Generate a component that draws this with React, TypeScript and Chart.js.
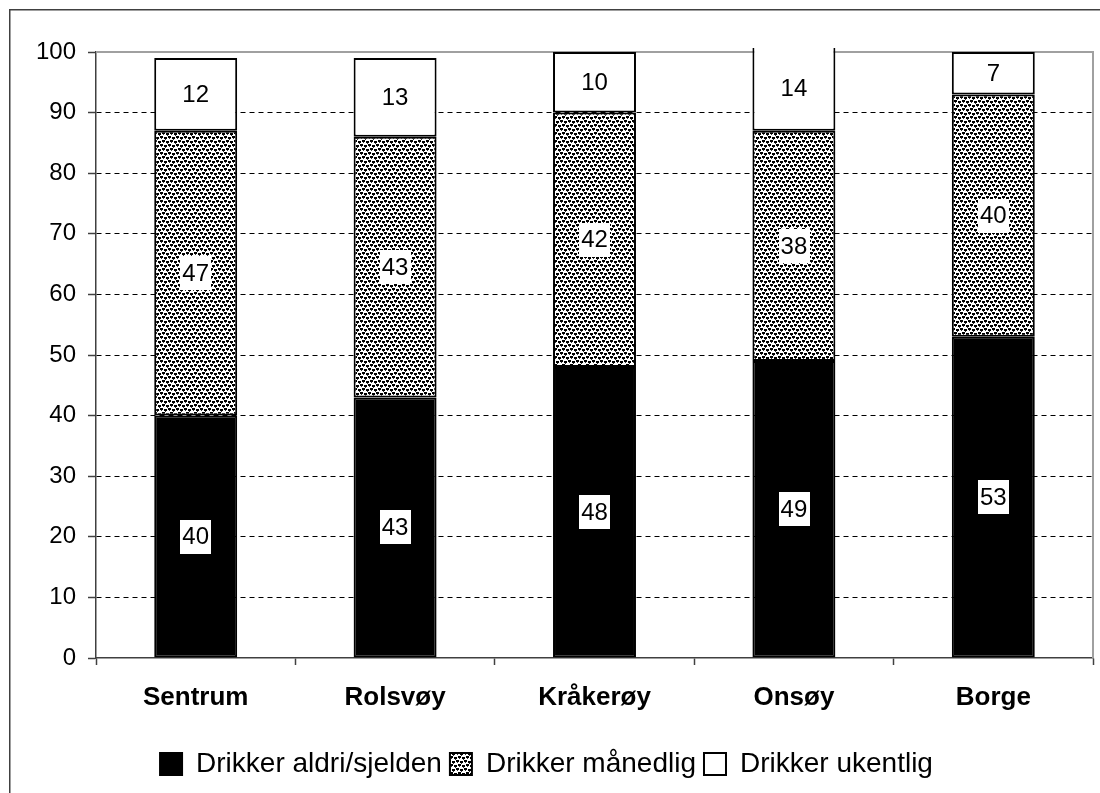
import { useEffect, useRef } from "react";
import { Chart, registerables } from "chart.js";

Chart.register(...registerables);

const categories = ["Sentrum", "Rolsvøy", "Kråkerøy", "Onsøy", "Borge"];
const seriesNames = ["Drikker aldri/sjelden", "Drikker månedlig", "Drikker ukentlig"];
const aldriSjelden = [40, 43, 48, 49, 53];
const maanedlig = [47, 43, 42, 38, 40];
const ukentlig = [12, 13, 10, 14, 7];
const yMin = 0;
const yMax = 100;
const yStep = 10;

const FONT = "'Liberation Sans', Arial, sans-serif";

function makePattern(): CanvasPattern | string {
  const c = document.createElement("canvas");
  c.width = 8;
  c.height = 8;
  const g = c.getContext("2d");
  if (!g) return "#888";
  g.fillStyle = "#fff";
  g.fillRect(0, 0, 8, 8);
  g.fillStyle = "#000";
  g.fillRect(0, 0, 3, 2);
  g.fillRect(4, 1, 3, 2);
  g.fillRect(2, 4, 3, 2);
  g.fillRect(6, 5, 2, 2);
  g.fillRect(0, 5, 1, 2);
  g.fillStyle = "#333";
  g.fillRect(1, 2, 1, 1);
  g.fillRect(5, 3, 1, 1);
  g.fillRect(3, 6, 1, 1);
  g.fillRect(7, 7, 1, 1);
  const p = g.createPattern(c, "repeat");
  return p || "#888";
}

const framePlugin = {
  id: "frame",
  beforeDraw(chart: any) {
    const ctx = chart.ctx;
    ctx.save();
    ctx.fillStyle = "#fff";
    ctx.fillRect(0, 0, chart.width, chart.height);
    ctx.strokeStyle = "#404040";
    ctx.lineWidth = 1.5;
    ctx.strokeRect(9.75, 9.75, 1200, 1200);
    ctx.restore();
  },
  beforeDatasetsDraw(chart: any) {
    const { ctx, chartArea } = chart;
    ctx.save();
    ctx.strokeStyle = "#a0a0a0";
    ctx.lineWidth = 2;
    ctx.beginPath();
    ctx.moveTo(chartArea.left, chartArea.top);
    ctx.lineTo(chartArea.right, chartArea.top);
    ctx.lineTo(chartArea.right, chartArea.bottom);
    ctx.stroke();
    ctx.restore();
  },
};

const labelPlugin = {
  id: "segLabels",
  afterDatasetsDraw(chart: any) {
    const ctx = chart.ctx;
    ctx.save();
    ctx.font = `24px ${FONT}`;
    ctx.textAlign = "center";
    ctx.textBaseline = "middle";
    chart.data.datasets.forEach((ds: any, di: number) => {
      const meta = chart.getDatasetMeta(di);
      meta.data.forEach((bar: any, i: number) => {
        const v = ds.data[i];
        const { x, y, base } = bar.getProps(["x", "y", "base"], true);
        const cy = (y + base) / 2;
        const text = String(v);
        const w = ctx.measureText(text).width + 4;
        const h = 34;
        ctx.fillStyle = "#fff";
        ctx.fillRect(Math.round(x - w / 2), Math.round(cy - h / 2), Math.round(w), h);
        ctx.fillStyle = "#000";
        ctx.fillText(text, x, cy + 1);
      });
    });
    ctx.restore();
  },
};

export default function App() {
  const ref = useRef<HTMLCanvasElement>(null);
  useEffect(() => {
    document.body.style.margin = "0";
    if (!ref.current) return;
    const pattern = makePattern();
    const fills = ["#000", pattern, "#fff"];
    const values = [aldriSjelden, maanedlig, ukentlig];
    const chart = new Chart(ref.current, {
      type: "bar",
      data: {
        labels: categories,
        datasets: seriesNames.map((name, k) => ({
          label: name,
          data: values[k],
          backgroundColor: fills[k] as any,
          borderColor: "#000",
          borderWidth: 2,
          borderSkipped: false,
          barPercentage: 0.416,
          categoryPercentage: 1,
          clip: { left: false, right: false, top: 4, bottom: false } as any,
        })),
      },
      options: {
        animation: false,
        responsive: false,
        maintainAspectRatio: false,
        layout: { padding: { top: 52, left: 0, right: 7, bottom: 5 } },
        plugins: {
          tooltip: { enabled: false },
          legend: {
            position: "bottom",
            labels: {
              boxWidth: 22,
              boxHeight: 22,
              padding: 8,
              color: "#000",
              font: { size: 28, family: FONT },
            },
          },
        },
        scales: {
          x: {
            stacked: true,
            grid: {
              offset: true,
              drawOnChartArea: false,
              tickLength: 7,
              tickColor: "#404040",
              tickWidth: 1.5,
            },
            border: { color: "#404040", width: 1.5 },
            ticks: {
              color: "#000",
              padding: 17,
              font: { size: 26, weight: "bold", family: FONT },
            },
            afterFit(scale: any) {
              scale.height = 84;
            },
          },
          y: {
            stacked: true,
            min: yMin,
            max: yMax,
            ticks: {
              stepSize: yStep,
              color: "#000",
              padding: 12,
              font: { size: 24, family: FONT },
            },
            grid: {
              color: (c: any) =>
                c.tick && (c.tick.value === yMax || c.tick.value === yMin) ? "rgba(0,0,0,0)" : "#000",
              lineWidth: 1,
              tickLength: 8,
              tickColor: "#404040",
              tickWidth: 1.5,
            },
            border: { color: "#404040", width: 1.5, dash: [5, 4] },
            afterFit(scale: any) {
              scale.width = 96;
            },
          },
        },
      },
      plugins: [framePlugin, labelPlugin],
    });
    return () => chart.destroy();
  }, []);
  return (
    <div style={{ position: "absolute", left: 0, top: 0 }}>
      <canvas ref={ref} width={1100} height={793} style={{ display: "block", width: 1100, height: 793 }} />
    </div>
  );
}
